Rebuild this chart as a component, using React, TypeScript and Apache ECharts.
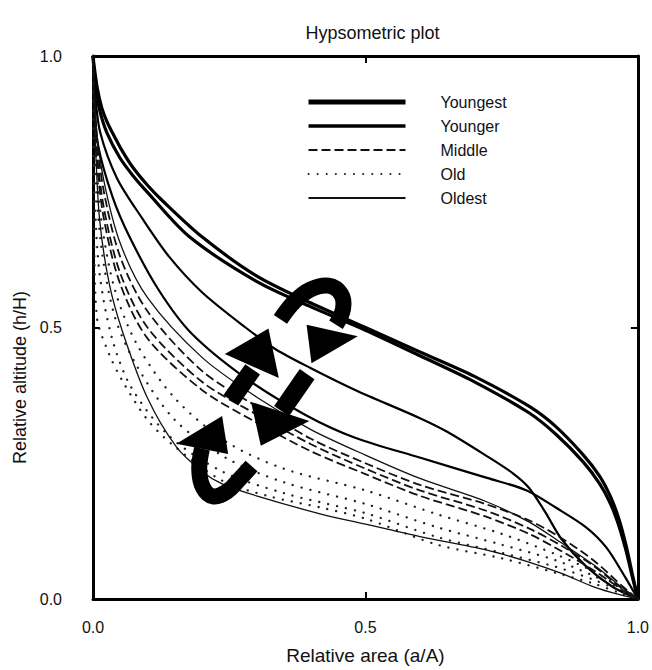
import React, { useEffect, useRef } from 'react';
import * as echarts from 'echarts';

// ---- data (relative area, relative altitude) ----
const youngestA = [[0,1],[0.002,0.982],[0.008,0.94],[0.016,0.905],[0.026,0.878],[0.036,0.858],[0.052,0.828],[0.073,0.795],[0.1,0.762],[0.128,0.733],[0.2,0.667],[0.3,0.595],[0.4,0.545],[0.5,0.5],[0.6,0.455],[0.7,0.41],[0.8,0.355],[0.85,0.317],[0.9,0.265],[0.93,0.226],[0.95,0.188],[0.965,0.148],[0.978,0.1],[0.99,0.045],[1,0]];
const youngestB = [[0,1],[0.003,0.96],[0.008,0.925],[0.013,0.897],[0.025,0.86],[0.049,0.813],[0.073,0.78],[0.098,0.751],[0.177,0.667],[0.3,0.585],[0.4,0.538],[0.5,0.495],[0.6,0.448],[0.7,0.4],[0.8,0.343],[0.85,0.303],[0.9,0.252],[0.93,0.212],[0.95,0.175],[0.965,0.135],[0.978,0.09],[0.99,0.04],[1,0]];
const youngerA = [[0,1],[0.004,0.93],[0.013,0.86],[0.044,0.775],[0.091,0.7],[0.14,0.63],[0.2,0.565],[0.28,0.5],[0.335,0.46],[0.4,0.425],[0.481,0.385],[0.6,0.333],[0.65,0.308],[0.72,0.265],[0.77,0.232],[0.8,0.205],[0.83,0.16],[0.86,0.11],[0.905,0.06],[0.954,0.022],[1,0]];
const youngerB = [[0,1],[0.003,0.91],[0.009,0.837],[0.036,0.74],[0.067,0.667],[0.12,0.57],[0.18,0.49],[0.28,0.407],[0.39,0.339],[0.481,0.297],[0.601,0.26],[0.723,0.223],[0.796,0.2],[0.85,0.168],[0.905,0.132],[0.942,0.095],[0.978,0.038],[1,0]];
const middleA = [[0,1],[0.006,0.86],[0.02,0.75],[0.05,0.63],[0.1,0.53],[0.2,0.42],[0.3,0.355],[0.4,0.295],[0.5,0.25],[0.6,0.21],[0.72,0.175],[0.8,0.145],[0.86,0.112],[0.92,0.07],[0.97,0.025],[1,0]];
const middleB = [[0,1],[0.006,0.84],[0.02,0.72],[0.05,0.6],[0.1,0.5],[0.2,0.4],[0.3,0.34],[0.4,0.285],[0.5,0.24],[0.6,0.2],[0.72,0.163],[0.8,0.13],[0.86,0.098],[0.92,0.06],[0.97,0.02],[1,0]];
const middleC = [[0,1],[0.006,0.82],[0.02,0.7],[0.05,0.58],[0.1,0.48],[0.2,0.385],[0.3,0.325],[0.4,0.272],[0.5,0.23],[0.6,0.19],[0.72,0.152],[0.8,0.12],[0.86,0.088],[0.92,0.052],[0.97,0.018],[1,0]];
const oldA = [[0,1],[0.004,0.85],[0.015,0.7],[0.04,0.57],[0.08,0.47],[0.15,0.37],[0.244,0.29],[0.35,0.24],[0.5,0.2],[0.632,0.156],[0.75,0.12],[0.85,0.082],[0.92,0.05],[0.97,0.02],[1,0]];
const oldB = [[0,1],[0.004,0.8],[0.015,0.65],[0.04,0.52],[0.08,0.43],[0.15,0.33],[0.244,0.26],[0.35,0.215],[0.5,0.175],[0.632,0.132],[0.75,0.1],[0.85,0.071],[0.92,0.042],[0.97,0.017],[1,0]];
const oldC = [[0,1],[0.003,0.75],[0.012,0.6],[0.035,0.48],[0.07,0.39],[0.14,0.3],[0.237,0.235],[0.35,0.195],[0.5,0.158],[0.632,0.114],[0.75,0.085],[0.85,0.059],[0.92,0.035],[0.97,0.014],[1,0]];
const oldD = [[0,1],[0.002,0.7],[0.007,0.52],[0.03,0.45],[0.055,0.4],[0.1,0.33],[0.146,0.284],[0.237,0.218],[0.32,0.19],[0.42,0.168],[0.5,0.148],[0.632,0.1],[0.75,0.075],[0.85,0.048],[0.92,0.028],[0.97,0.01],[1,0]];
const oldestA = [[0,1],[0.004,0.85],[0.012,0.7],[0.03,0.58],[0.055,0.49],[0.1,0.37],[0.153,0.28],[0.2,0.235],[0.237,0.212],[0.3,0.19],[0.42,0.156],[0.5,0.138],[0.6,0.115],[0.723,0.09],[0.8,0.068],[0.86,0.047],[0.92,0.022],[0.97,0.007],[1,0]];
const oldestB = [[0,1],[0.006,0.87],[0.02,0.77],[0.05,0.655],[0.1,0.555],[0.2,0.445],[0.3,0.372],[0.4,0.312],[0.5,0.265],[0.6,0.222],[0.72,0.18],[0.8,0.142],[0.86,0.103],[0.92,0.062],[0.97,0.022],[1,0]];

const groupNames = ['Youngest', 'Younger', 'Middle', 'Old', 'Oldest'];
const curveSets = [
  { name: 'Youngest', data: youngestA },
  { name: 'Youngest', data: youngestB },
  { name: 'Younger', data: youngerA },
  { name: 'Younger', data: youngerB },
  { name: 'Middle', data: middleA },
  { name: 'Middle', data: middleB },
  { name: 'Middle', data: middleC },
  { name: 'Old', data: oldA },
  { name: 'Old', data: oldB },
  { name: 'Old', data: oldC },
  { name: 'Old', data: oldD },
  { name: 'Oldest', data: oldestA },
  { name: 'Oldest', data: oldestB },
];

// annotation arrows, in axis units
const arrowTopPath = [[0.344,0.515],[0.37,0.548],[0.399,0.57],[0.432,0.577],[0.455,0.562],[0.459,0.535],[0.446,0.505]];
const arrowTopHead = [[0.392,0.505],[0.486,0.484],[0.401,0.434]];
const arrowUpPath = [[0.253,0.366],[0.293,0.423]];
const arrowUpHead = [[0.242,0.451],[0.341,0.407],[0.322,0.498]];
const arrowDownPath = [[0.393,0.414],[0.346,0.346]];
const arrowDownHead = [[0.29,0.363],[0.397,0.328],[0.308,0.282]];
const arrowLowPath = [[0.2,0.277],[0.195,0.238],[0.202,0.205],[0.22,0.189],[0.246,0.198],[0.27,0.222],[0.291,0.245]];
const arrowLowHead = [[0.153,0.286],[0.248,0.267],[0.237,0.337]];

const FONT = '"Liberation Sans", Arial, Helvetica, sans-serif';
const GRID = { left: 93, top: 56, width: 549, height: 546 };

function lineStyleFor(name: string) {
  switch (name) {
    case 'Youngest': return { color: '#000', width: 3.2, type: 'solid' };
    case 'Younger': return { color: '#000', width: 2.2, type: 'solid' };
    case 'Middle': return { color: '#111', width: 1.8, type: [9, 4] };
    case 'Old': return { color: '#222', width: 2.3, type: [0.1, 9], cap: 'round' };
    default: return { color: '#111', width: 1.3, type: 'solid' };
  }
}

export default function App() {
  const ref = useRef<HTMLDivElement>(null);
  useEffect(() => {
    const chart = echarts.init(ref.current!, null, { renderer: 'svg' });
    const axisCommon = {
      type: 'value', min: 0, max: 1, interval: 0.5,
      splitLine: { show: false },
      axisLine: { show: true, onZero: false, lineStyle: { color: '#000', width: 3 } },
      axisTick: { show: true, inside: true, length: 7, lineStyle: { color: '#000', width: 2 } },
    };
    const labelStyle = { fontSize: 16, color: '#111', fontFamily: FONT, formatter: (v: number) => v.toFixed(1) };
    chart.setOption({
      animation: false,
      backgroundColor: '#fff',
      title: {
        text: 'Hypsometric plot', left: GRID.left + GRID.width / 2, top: 19, textAlign: 'center',
        textStyle: { fontSize: 18, fontWeight: 'normal', color: '#111', fontFamily: FONT },
      },
      legend: {
        orient: 'vertical', left: 306, top: 94, padding: 0, itemWidth: 97, itemHeight: 14, itemGap: 8,
        selectedMode: false,
        itemStyle: { opacity: 0 },
        data: [
          { name: groupNames[0], lineStyle: { width: 5 } },
          { name: groupNames[1], lineStyle: { width: 3.5 } },
          { name: groupNames[2] },
          { name: groupNames[3] },
          { name: groupNames[4] },
        ],
        textStyle: { fontSize: 16, lineHeight: 16, color: '#111', fontFamily: FONT, padding: [0, 0, 0, 30] },
      },
      grid: { ...GRID, containLabel: false },
      xAxis: [
        { ...axisCommon, position: 'bottom', axisLabel: { ...labelStyle, margin: 20 },
          name: 'Relative area (a/A)', nameLocation: 'middle', nameGap: 47,
          nameTextStyle: { fontSize: 19, color: '#111', fontFamily: FONT } },
        { ...axisCommon, position: 'top', axisLabel: { show: false } },
      ],
      yAxis: [
        { ...axisCommon, position: 'left', axisLabel: { ...labelStyle, margin: 31 },
          name: 'Relative altitude (h/H)', nameLocation: 'middle', nameGap: 64,
          nameTextStyle: { fontSize: 18, color: '#111', fontFamily: FONT, padding: [0, 100, 0, 0] } },
        { ...axisCommon, position: 'right', axisLabel: { show: false } },
      ],
      series: curveSets.map((c) => ({
        type: 'line', name: c.name, data: c.data, xAxisIndex: 0, yAxisIndex: 0,
        symbol: 'none', showSymbol: false, smooth: 0.3,
        lineStyle: lineStyleFor(c.name), silent: true, z: 3,
      })),
    });

    const toPx = (pts: number[][]) => pts.map((p) => chart.convertToPixel({ xAxisIndex: 0, yAxisIndex: 0 }, p) as number[]);
    const shaft = (pts: number[][], w: number, smooth = 0) => ({
      type: 'polyline', z: 20, shape: { points: toPx(pts), smooth },
      style: { stroke: '#000', lineWidth: w, fill: null, lineCap: 'butt', lineJoin: 'round' },
    });
    const head = (pts: number[][]) => ({ type: 'polygon', z: 20, shape: { points: toPx(pts) }, style: { fill: '#000' } });
    chart.setOption({
      graphic: [
        shaft(arrowTopPath, 16, 0.4), head(arrowTopHead),
        shaft(arrowUpPath, 18), head(arrowUpHead),
        shaft(arrowDownPath, 18), head(arrowDownHead),
        shaft(arrowLowPath, 16, 0.4), head(arrowLowHead),
      ],
    });
    return () => chart.dispose();
  }, []);
  return <div ref={ref} style={{ position: 'absolute', left: 0, top: 0, width: 652, height: 670, background: '#fff' }} />;
}
